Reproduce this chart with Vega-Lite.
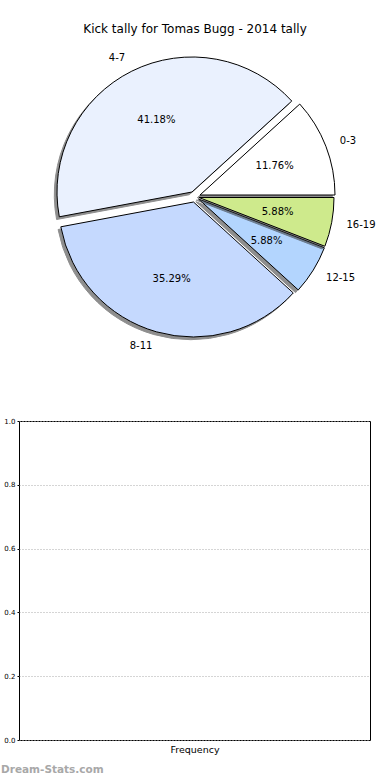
{
  "$schema": "https://vega.github.io/schema/vega-lite/v6.json",
  "padding": {"left": 0, "top": 23, "right": 0, "bottom": 0},
  "spacing": 62,
  "config": {
    "font": "DejaVu Sans",
    "view": {"stroke": null},
    "title": {"font": "DejaVu Sans", "fontSize": 12, "fontWeight": "normal", "color": "#000000"},
    "text": {"font": "DejaVu Sans", "fontSize": 10, "color": "#000000"}
  },
  "vconcat": [
    {
      "width": 352,
      "height": 314,
      "title": {"text": "Kick tally for Tomas Bugg - 2014 tally", "offset": 4},
      "data": {
        "values": [
          {"bin": "0-3", "n": 2, "k": 1},
          {"bin": "4-7", "n": 7, "k": 2},
          {"bin": "8-11", "n": 6, "k": 3},
          {"bin": "12-15", "n": 1, "k": 4},
          {"bin": "16-19", "n": 1, "k": 5}
        ]
      },
      "transform": [
        {"window": [{"op": "sum", "field": "n", "as": "c1"}], "sort": [{"field": "k", "order": "ascending"}], "frame": [null, 0]},
        {"joinaggregate": [{"op": "sum", "field": "n", "as": "tot"}]},
        {"calculate": "datum.c1 - datum.n", "as": "c0"},
        {"calculate": "(datum.c0 + datum.c1) / 2", "as": "mid"},
        {"calculate": "datum.n / datum.tot", "as": "share"}
      ],
      "layer": [
        {
          "transform": [{"filter": "datum.bin === '0-3'"}],
          "layer": [
            {"mark": {"type": "arc", "radius": 135, "xOffset": 2.3, "yOffset": 0.7, "fill": "#333333", "opacity": 0.55, "stroke": "#333333", "strokeWidth": 1},
             "encoding": {"theta": {"field": "c0", "type": "quantitative", "stack": null, "scale": {"domain": [0, 17], "range": [1.5707963, -4.712389], "nice": false, "zero": false}}, "theta2": {"field": "c1"}}},
            {"mark": {"type": "arc", "radius": 135, "xOffset": 5, "yOffset": -2, "stroke": "#000000", "strokeWidth": 1},
             "encoding": {"theta": {"field": "c0", "type": "quantitative", "stack": null}, "theta2": {"field": "c1"},
               "color": {"field": "bin", "type": "nominal", "legend": null, "scale": {"domain": ["0-3", "4-7", "8-11", "12-15", "16-19"], "range": ["#ffffff", "#eaf1fe", "#c5d9fe", "#b3d5fe", "#ceea8c"]}}}},
            {"mark": {"type": "text", "radius": 80, "xOffset": 5, "yOffset": -2, "align": "center", "baseline": "middle"},
             "encoding": {"theta": {"field": "mid", "type": "quantitative", "stack": null}, "text": {"field": "share", "type": "quantitative", "format": ".2%"}}},
            {"mark": {"type": "text", "radius": 150, "xOffset": 5, "yOffset": -2, "align": "left", "baseline": "middle"},
             "encoding": {"theta": {"field": "mid", "type": "quantitative", "stack": null}, "text": {"field": "bin", "type": "nominal"}}}
          ]
        },
        {
          "transform": [{"filter": "datum.bin === '4-7'"}],
          "layer": [
            {"mark": {"type": "arc", "radius": 135, "xOffset": -5.7, "yOffset": -2.3, "fill": "#333333", "opacity": 0.55, "stroke": "#333333", "strokeWidth": 1},
             "encoding": {"theta": {"field": "c0", "type": "quantitative", "stack": null}, "theta2": {"field": "c1"}}},
            {"mark": {"type": "arc", "radius": 135, "xOffset": -3, "yOffset": -5, "stroke": "#000000", "strokeWidth": 1},
             "encoding": {"theta": {"field": "c0", "type": "quantitative", "stack": null}, "theta2": {"field": "c1"},
               "color": {"field": "bin", "type": "nominal", "legend": null}}},
            {"mark": {"type": "text", "radius": 80, "xOffset": -3, "yOffset": -5, "align": "center", "baseline": "middle"},
             "encoding": {"theta": {"field": "mid", "type": "quantitative", "stack": null}, "text": {"field": "share", "type": "quantitative", "format": ".2%"}}},
            {"mark": {"type": "text", "radius": 150, "xOffset": -3, "yOffset": -5, "align": "right", "baseline": "middle"},
             "encoding": {"theta": {"field": "mid", "type": "quantitative", "stack": null}, "text": {"field": "bin", "type": "nominal"}}}
          ]
        },
        {
          "transform": [{"filter": "datum.bin === '8-11'"}],
          "layer": [
            {"mark": {"type": "arc", "radius": 135, "xOffset": -4.2, "yOffset": 7.7, "fill": "#333333", "opacity": 0.55, "stroke": "#333333", "strokeWidth": 1},
             "encoding": {"theta": {"field": "c0", "type": "quantitative", "stack": null}, "theta2": {"field": "c1"}}},
            {"mark": {"type": "arc", "radius": 135, "xOffset": -1.5, "yOffset": 5, "stroke": "#000000", "strokeWidth": 1},
             "encoding": {"theta": {"field": "c0", "type": "quantitative", "stack": null}, "theta2": {"field": "c1"},
               "color": {"field": "bin", "type": "nominal", "legend": null}}},
            {"mark": {"type": "text", "radius": 80, "xOffset": -1.5, "yOffset": 5, "align": "center", "baseline": "middle"},
             "encoding": {"theta": {"field": "mid", "type": "quantitative", "stack": null}, "text": {"field": "share", "type": "quantitative", "format": ".2%"}}},
            {"mark": {"type": "text", "radius": 150, "xOffset": -1.5, "yOffset": 5, "align": "right", "baseline": "middle"},
             "encoding": {"theta": {"field": "mid", "type": "quantitative", "stack": null}, "text": {"field": "bin", "type": "nominal"}}}
          ]
        },
        {
          "transform": [{"filter": "datum.bin === '12-15'"}],
          "layer": [
            {"mark": {"type": "arc", "radius": 135, "xOffset": 0.8, "yOffset": 4.7, "fill": "#333333", "opacity": 0.55, "stroke": "#333333", "strokeWidth": 1},
             "encoding": {"theta": {"field": "c0", "type": "quantitative", "stack": null}, "theta2": {"field": "c1"}}},
            {"mark": {"type": "arc", "radius": 135, "xOffset": 3.5, "yOffset": 2, "stroke": "#000000", "strokeWidth": 1},
             "encoding": {"theta": {"field": "c0", "type": "quantitative", "stack": null}, "theta2": {"field": "c1"},
               "color": {"field": "bin", "type": "nominal", "legend": null}}},
            {"mark": {"type": "text", "radius": 80, "xOffset": 3.5, "yOffset": 2, "align": "center", "baseline": "middle"},
             "encoding": {"theta": {"field": "mid", "type": "quantitative", "stack": null}, "text": {"field": "share", "type": "quantitative", "format": ".2%"}}},
            {"mark": {"type": "text", "radius": 150, "xOffset": 3.5, "yOffset": 2, "align": "left", "baseline": "middle"},
             "encoding": {"theta": {"field": "mid", "type": "quantitative", "stack": null}, "text": {"field": "bin", "type": "nominal"}}}
          ]
        },
        {
          "transform": [{"filter": "datum.bin === '16-19'"}],
          "layer": [
            {"mark": {"type": "arc", "radius": 135, "xOffset": 1.3, "yOffset": 3.2, "fill": "#333333", "opacity": 0.55, "stroke": "#333333", "strokeWidth": 1},
             "encoding": {"theta": {"field": "c0", "type": "quantitative", "stack": null}, "theta2": {"field": "c1"}}},
            {"mark": {"type": "arc", "radius": 135, "xOffset": 4, "yOffset": 0.5, "stroke": "#000000", "strokeWidth": 1},
             "encoding": {"theta": {"field": "c0", "type": "quantitative", "stack": null}, "theta2": {"field": "c1"},
               "color": {"field": "bin", "type": "nominal", "legend": null}}},
            {"mark": {"type": "text", "radius": 80, "xOffset": 4, "yOffset": 0.5, "align": "center", "baseline": "middle"},
             "encoding": {"theta": {"field": "mid", "type": "quantitative", "stack": null}, "text": {"field": "share", "type": "quantitative", "format": ".2%"}}},
            {"mark": {"type": "text", "radius": 150, "xOffset": 4, "yOffset": 0.5, "align": "left", "baseline": "middle"},
             "encoding": {"theta": {"field": "mid", "type": "quantitative", "stack": null}, "text": {"field": "bin", "type": "nominal"}}}
          ]
        }
      ]
    },
    {
      "width": 351,
      "height": 319,
      "view": {"stroke": "#000000", "strokeWidth": 1},
      "title": {"text": "Dream-Stats.com", "orient": "bottom", "anchor": "start", "frame": "bounds", "fontSize": 10.5, "fontWeight": "bold", "color": "#a8a8a8", "offset": 11},
      "data": {"values": []},
      "mark": {"type": "point"},
      "encoding": {
        "x": {"field": "c", "type": "nominal", "axis": {"title": "Frequency", "labels": false, "ticks": false, "domain": false, "grid": false, "titleFontSize": 9.5, "titleFontWeight": "normal", "titleColor": "#000000", "titlePadding": 4}},
        "y": {"field": "v", "type": "quantitative", "scale": {"domain": [0, 1], "nice": false},
          "axis": {"title": null, "values": [0, 0.2, 0.4, 0.6, 0.8, 1], "format": ".1f", "labelFontSize": 7, "labelColor": "#000000", "tickSize": 2, "tickColor": "#000000", "labelPadding": 2, "domain": false, "grid": true, "gridDash": [1, 2], "gridColor": "#aaaaaa", "minExtent": 18, "maxExtent": 18}}
      }
    }
  ]
}
